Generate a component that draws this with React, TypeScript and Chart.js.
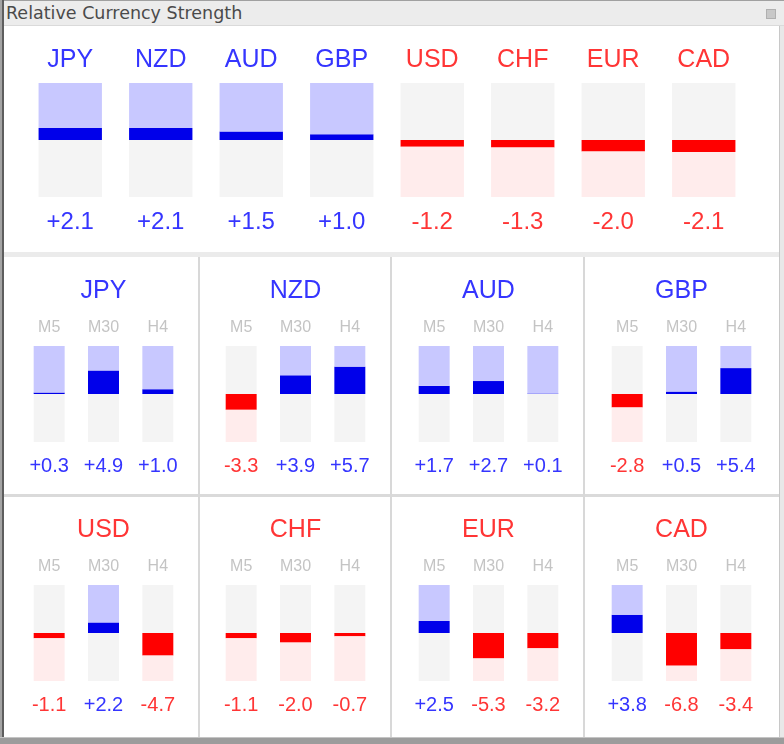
import React, { useEffect, useRef } from 'react';
import { Chart, registerables } from 'chart.js';

Chart.register(...registerables);

// ---- data ----
const currencies = ['JPY', 'NZD', 'AUD', 'GBP', 'USD', 'CHF', 'EUR', 'CAD'];
const overallStrength = [2.1, 2.1, 1.5, 1.0, -1.2, -1.3, -2.0, -2.1];
const timeframes = ['M5', 'M30', 'H4'];
const jpyStrength = [0.3, 4.9, 1.0];
const nzdStrength = [-3.3, 3.9, 5.7];
const audStrength = [1.7, 2.7, 0.1];
const gbpStrength = [-2.8, 0.5, 5.4];
const usdStrength = [-1.1, 2.2, -4.7];
const chfStrength = [-1.1, -2.0, -0.7];
const eurStrength = [2.5, -5.3, -3.2];
const cadStrength = [3.8, -6.8, -3.4];
const scaleMin = -10;
const scaleMax = 10;

// ---- styles ----
const FONT = "'Liberation Sans', Arial, sans-serif";
const DARK_BLUE = '#0000ea';
const DARK_RED = '#ff0000';
const LIGHT_BLUE = '#c8c8ff';
const LIGHT_RED = '#ffecec';
const NEUTRAL = '#f4f4f4';
const TEXT_BLUE = '#3535ff';
const TEXT_RED = '#ff3535';
const TF_GRAY = '#c4c4c4';

const fmt = (v: number) => (v >= 0 ? '+' : '') + v.toFixed(1);
const signColor = (v: number) => (v >= 0 ? TEXT_BLUE : TEXT_RED);

function buildDatasets(values: number[], barPct: number) {
  const common = { grouped: false, borderWidth: 0, barPercentage: barPct, categoryPercentage: 1 };
  return [
    {
      ...common,
      data: values.map((v) => (v >= 0 ? [scaleMin, 0] : [scaleMin, v])),
      backgroundColor: values.map((v) => (v >= 0 ? NEUTRAL : LIGHT_RED)),
    },
    {
      ...common,
      data: values.map((v) => (v >= 0 ? [v, scaleMax] : [0, scaleMax])),
      backgroundColor: values.map((v) => (v >= 0 ? LIGHT_BLUE : NEUTRAL)),
    },
    {
      ...common,
      data: values.map((v) => (v >= 0 ? [0, v] : [v, 0])),
      backgroundColor: values.map((v) => (v >= 0 ? DARK_BLUE : DARK_RED)),
    },
  ];
}

type Geo = {
  w: number;
  h: number;
  topAxisH: number;
  topPad: number;
  topFont: number;
  botAxisH: number;
  botPad: number;
  botFont: number;
  barPct: number;
  titleFont?: number;
  titlePadTop?: number;
};

function StrengthChart(props: {
  labels: string[];
  values: number[];
  geo: Geo;
  title?: string;
  titleColor?: string;
  labelColors?: string[];
}) {
  const ref = useRef<HTMLCanvasElement>(null);
  const { labels, values, geo, title, titleColor, labelColors } = props;
  useEffect(() => {
    const canvas = ref.current;
    if (!canvas) return;
    const valueLabels = values.map(fmt);
    const chart = new Chart(canvas, {
      type: 'bar',
      data: { labels, datasets: buildDatasets(values, geo.barPct) as any },
      options: {
        animation: false,
        responsive: false,
        events: [],
        layout: { padding: 0 },
        plugins: {
          legend: { display: false },
          tooltip: { enabled: false },
          title: title
            ? {
                display: true,
                text: title,
                color: titleColor,
                font: { family: FONT, size: geo.titleFont, weight: 'normal' },
                padding: { top: geo.titlePadTop, bottom: 0 },
              }
            : { display: false },
        },
        scales: {
          x: {
            type: 'category',
            position: 'top',
            offset: true,
            grid: { display: false, drawTicks: false },
            border: { display: false },
            ticks: {
              autoSkip: false,
              maxRotation: 0,
              minRotation: 0,
              padding: geo.topPad,
              color: (c: any) => (labelColors ? labelColors[c.index] : TF_GRAY),
              font: { family: FONT, size: geo.topFont },
            },
            afterFit: (s: any) => {
              s.height = geo.topAxisH;
              s.paddingLeft = 0;
              s.paddingRight = 0;
            },
          },
          xv: {
            type: 'category',
            position: 'bottom',
            labels: valueLabels,
            offset: true,
            grid: { display: false, drawTicks: false },
            border: { display: false },
            ticks: {
              autoSkip: false,
              maxRotation: 0,
              minRotation: 0,
              padding: geo.botPad,
              color: (c: any) => signColor(values[c.index]),
              font: { family: FONT, size: geo.botFont },
            },
            afterFit: (s: any) => {
              s.height = geo.botAxisH;
              s.paddingLeft = 0;
              s.paddingRight = 0;
            },
          },
          y: { display: false, min: scaleMin, max: scaleMax },
        },
      } as any,
    });
    return () => chart.destroy();
  }, []);
  return <canvas ref={ref} width={geo.w} height={geo.h} style={{ display: 'block' }} />;
}

const topGeo: Geo = {
  w: 724,
  h: 225,
  topAxisH: 58,
  topPad: 8,
  topFont: 25,
  botAxisH: 53,
  botPad: 10.6,
  botFont: 24,
  barPct: 0.7,
};

const panelGeo: Geo = {
  w: 163,
  h: 230,
  titleFont: 25,
  titlePadTop: 18,
  topAxisH: 40,
  topPad: 8.4,
  topFont: 16,
  botAxisH: 46,
  botPad: 12,
  botFont: 20,
  barPct: 0.57,
};

const panels = [
  { name: 'JPY', values: jpyStrength },
  { name: 'NZD', values: nzdStrength },
  { name: 'AUD', values: audStrength },
  { name: 'GBP', values: gbpStrength },
  { name: 'USD', values: usdStrength },
  { name: 'CHF', values: chfStrength },
  { name: 'EUR', values: eurStrength },
  { name: 'CAD', values: cadStrength },
];
const panelCenters = [103, 295, 488, 681];
const panelRowTops = [258, 497];

const abs = (s: React.CSSProperties): React.CSSProperties => ({ position: 'absolute', ...s });

export default function App() {
  const overallIdx = (name: string) => currencies.indexOf(name);
  return (
    <div
      style={{
        position: 'fixed',
        left: 0,
        top: 0,
        width: 784,
        height: 744,
        background: '#ffffff',
        overflow: 'hidden',
      }}
    >
      {/* title bar */}
      <div style={abs({ left: 0, top: 0, width: 784, height: 25, background: '#ececec' })} />
      <div style={abs({ left: 0, top: 0, width: 784, height: 1, background: '#a0a0a0' })} />
      <div style={abs({ left: 0, top: 25, width: 784, height: 1, background: '#dadada' })} />
      <div
        style={abs({
          left: 6,
          top: 1,
          height: 24,
          lineHeight: '24px',
          fontFamily: "'DejaVu Sans', sans-serif",
          fontSize: 17.5,
          color: '#4a4a4a',
          whiteSpace: 'nowrap',
        })}
      >
        Relative Currency Strength
      </div>
      <div style={abs({ left: 766, top: 9, width: 8, height: 8, background: '#c8c8c8', border: '1px solid #b0b0b0' })} />

      {/* window borders */}
      <div style={abs({ left: 0, top: 0, width: 2, height: 744, background: '#a4a4a4' })} />
      <div style={abs({ left: 2, top: 0, width: 2, height: 744, background: '#5e5e5e' })} />
      <div style={abs({ left: 779, top: 26, width: 5, height: 718, background: '#e8e8e8' })} />
      <div style={abs({ left: 779, top: 26, width: 1, height: 718, background: '#c8c8c8' })} />
      <div style={abs({ left: 0, top: 737, width: 784, height: 7, background: '#9c9c9c' })} />
      <div style={abs({ left: 0, top: 737, width: 784, height: 1, background: '#c4c4c4' })} />

      {/* separators */}
      <div style={abs({ left: 4, top: 252, width: 775, height: 5, background: '#ebebeb' })} />
      <div style={abs({ left: 4, top: 494, width: 775, height: 3, background: '#dadada' })} />
      {[198, 390, 583].map((x) => (
        <div key={x} style={abs({ left: x, top: 257, width: 2, height: 480, background: '#d8d8d8' })} />
      ))}

      {/* overall strength row */}
      <div style={abs({ left: 25, top: 25 })}>
        <StrengthChart
          labels={currencies}
          values={overallStrength}
          geo={topGeo}
          labelColors={overallStrength.map(signColor)}
        />
      </div>

      {/* timeframe panels */}
      {panels.map((p, i) => {
        const col = i % 4;
        const row = Math.floor(i / 4);
        return (
          <div
            key={p.name}
            style={abs({ left: panelCenters[col] - panelGeo.w / 2, top: panelRowTops[row] })}
          >
            <StrengthChart
              labels={timeframes}
              values={p.values}
              geo={panelGeo}
              title={p.name}
              titleColor={signColor(overallStrength[overallIdx(p.name)])}
            />
          </div>
        );
      })}
    </div>
  );
}
